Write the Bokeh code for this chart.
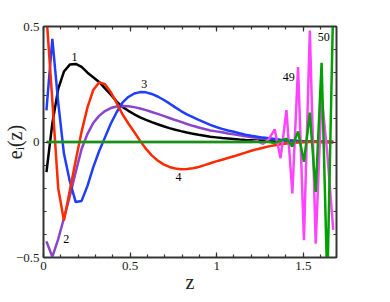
from bokeh.plotting import figure
from bokeh.models import Range1d, LinearAxis, SingleIntervalTicker, ColumnDataSource
from bokeh.embed import file_html
from bokeh.resources import INLINE
from bokeh.core.properties import value

# grid of z values
z = [0.017, 0.051, 0.085, 0.118, 0.152, 0.186, 0.220, 0.254, 0.287, 0.321,
     0.355, 0.389, 0.423, 0.456, 0.490, 0.524, 0.558, 0.592, 0.625, 0.659,
     0.693, 0.727, 0.761, 0.794, 0.828, 0.862, 0.896, 0.930, 0.963, 0.997,
     1.031, 1.065, 1.099, 1.132, 1.166, 1.200, 1.234, 1.268, 1.301, 1.335,
     1.369, 1.403, 1.437, 1.470, 1.504, 1.538, 1.572, 1.606, 1.639, 1.673]

e1 = [-0.13, 0.08, 0.23, 0.305, 0.335, 0.338, 0.325, 0.30, 0.28, 0.26,
      0.232, 0.205, 0.175, 0.152, 0.135, 0.12, 0.107, 0.096, 0.086, 0.077,
      0.068, 0.06, 0.053, 0.047, 0.041, 0.036, 0.031, 0.027, 0.023, 0.02,
      0.017, 0.015, 0.013, 0.011, 0.009, 0.008, 0.007, 0.006, 0.005, 0.004,
      0.003, 0.003, 0.002, 0.002, 0.001, 0.001, 0.001, 0.0, 0.0, 0.0]

e2 = [-0.43, -0.497, -0.42, -0.33, -0.235, -0.13, -0.03, 0.035, 0.082, 0.113,
      0.134, 0.147, 0.154, 0.156, 0.155, 0.151, 0.145, 0.138, 0.13, 0.122,
      0.113, 0.104, 0.095, 0.087, 0.078, 0.07, 0.063, 0.056, 0.05, 0.046,
      0.042, 0.037, 0.033, 0.029, 0.025, 0.021, 0.018, 0.015, 0.013, 0.011,
      0.008, 0.006, 0.005, 0.004, 0.003, 0.002, 0.002, 0.001, 0.001, 0.0]

e3 = [0.137, 0.447, 0.17, -0.05, -0.17, -0.26, -0.255, -0.19, -0.11, -0.04,
      0.02, 0.08, 0.13, 0.17, 0.195, 0.21, 0.216, 0.215, 0.208, 0.197,
      0.183, 0.167, 0.15, 0.134, 0.12, 0.108, 0.096, 0.085, 0.074, 0.065,
      0.057, 0.05, 0.044, 0.038, 0.032, 0.027, 0.023, 0.019, 0.016, 0.013,
      0.01, 0.008, 0.006, 0.004, 0.003, 0.002, 0.001, 0.001, 0.0, 0.0]

e4 = [0.55, 0.18, -0.2, -0.34, -0.21, -0.08, 0.045, 0.15, 0.225, 0.258,
      0.25, 0.215, 0.168, 0.12, 0.08, 0.043, 0.005, -0.03, -0.058, -0.08,
      -0.097, -0.108, -0.115, -0.118, -0.117, -0.114, -0.108, -0.1, -0.092, -0.084,
      -0.077, -0.069, -0.062, -0.054, -0.046, -0.038, -0.031, -0.025, -0.019, -0.014,
      -0.01, -0.007, -0.004, -0.002, -0.001, 0.0, 0.0, 0.0, 0.0, 0.0]

e49 = [0.0, 0.0, 0.0, 0.0, 0.0, 0.0, 0.0, 0.0, 0.0, 0.0,
       0.0, 0.0, 0.0, 0.0, 0.0, 0.0, 0.0, 0.0, 0.0, 0.0,
       0.0, 0.0, 0.0, 0.0, 0.0, 0.0, 0.0, 0.0, 0.0, 0.0,
       0.0, 0.0, 0.0, 0.0, 0.0, 0.0, 0.004, -0.008, 0.012, 0.055,
       -0.07, 0.138, -0.223, 0.324, -0.425, 0.483, -0.44, 0.2, -0.05, -0.38]

e50 = [0.0, 0.0, 0.0, 0.0, 0.0, 0.0, 0.0, 0.0, 0.0, 0.0,
       0.0, 0.0, 0.0, 0.0, 0.0, 0.0, 0.0, 0.0, 0.0, 0.0,
       0.0, 0.0, 0.0, 0.0, 0.0, 0.0, 0.0, 0.0, 0.0, 0.0,
       0.0, 0.0, 0.0, 0.0, 0.0, 0.0, 0.0, 0.0, 0.0, -0.004,
       0.006, 0.014, -0.02, 0.046, -0.086, 0.127, -0.216, 0.343, -0.62, 0.6]

curve_labels = ["1", "2", "3", "4", "49", "50"]
label_x = [0.179, 0.131, 0.582, 0.78, 1.416, 1.619]
label_y = [0.367, -0.418, 0.252, -0.151, 0.281, 0.454]

x_title = "z"
y_title = "e\u1d62(z)"

x_ticks_interval = 0.5
y_ticks_interval = 0.5

SERIF = "Liberation Serif"

p = figure(width=390, height=302, output_backend="svg", toolbar_location=None,
           x_range=Range1d(0, 1.692), y_range=Range1d(-0.5, 0.5),
           min_border_left=43, min_border_right=54, min_border_top=26,
           min_border_bottom=45)
p.xgrid.visible = False
p.ygrid.visible = False
p.outline_line_color = "black"
p.outline_line_width = 1.5
p.background_fill_color = "white"
p.border_fill_color = "white"

p.add_layout(LinearAxis(), "above")
p.add_layout(LinearAxis(), "right")

for ax in p.xaxis:
    ax.ticker = SingleIntervalTicker(interval=x_ticks_interval, num_minor_ticks=5)
for ax in p.yaxis:
    ax.ticker = SingleIntervalTicker(interval=y_ticks_interval, num_minor_ticks=5)

for ax in p.axis:
    ax.major_tick_in = 5
    ax.major_tick_out = 0
    ax.minor_tick_in = 3
    ax.minor_tick_out = 0
    ax.axis_line_color = "#333333"
    ax.axis_line_width = 1.5
    ax.major_tick_line_color = "#333333"
    ax.minor_tick_line_color = "#333333"
    ax.major_tick_line_width = 1.2
    ax.minor_tick_line_width = 1.2
    ax.major_label_text_font = SERIF
    ax.major_label_text_font_size = "13px"
    ax.major_label_text_color = "#222222"
    ax.major_label_standoff = 4

# hide labels on top and right axes
p.above[0].major_label_text_alpha = 0
p.above[0].major_label_text_font_size = "1px"
p.right[0].major_label_text_alpha = 0
p.right[0].major_label_text_font_size = "1px"

bx = p.below[0]
bx.axis_label = x_title
bx.axis_label_text_font = SERIF
bx.axis_label_text_font_size = "20px"
bx.axis_label_text_font_style = "normal"
bx.axis_label_text_color = "#222222"
bx.axis_label_standoff = -2

ly = p.left[0]
ly.axis_label = y_title
ly.axis_label_text_font = SERIF
ly.axis_label_text_font_size = "20px"
ly.axis_label_text_font_style = "normal"
ly.axis_label_text_color = "#222222"
ly.axis_label_standoff = -13

p.line(z, e1, line_color="black", line_width=2.5)
p.line(z, e2, line_color="#8a45cc", line_width=2.5)
p.line(z, e3, line_color="#1f3dff", line_width=2.5)
p.line(z, e4, line_color="#ff2a00", line_width=2.5)
p.line(z, e49, line_color="#ff44ff", line_width=2.5)
p.line(z, e50, line_color="#00a000", line_width=2.5)

src = ColumnDataSource(dict(x=label_x, y=label_y, t=curve_labels))
p.text(x="x", y="y", text="t", source=src, text_font=value(SERIF),
       text_font_size="12px", text_align="center", text_baseline="middle",
       text_color="black")

open("out.html", "w").write(file_html(p, INLINE))
